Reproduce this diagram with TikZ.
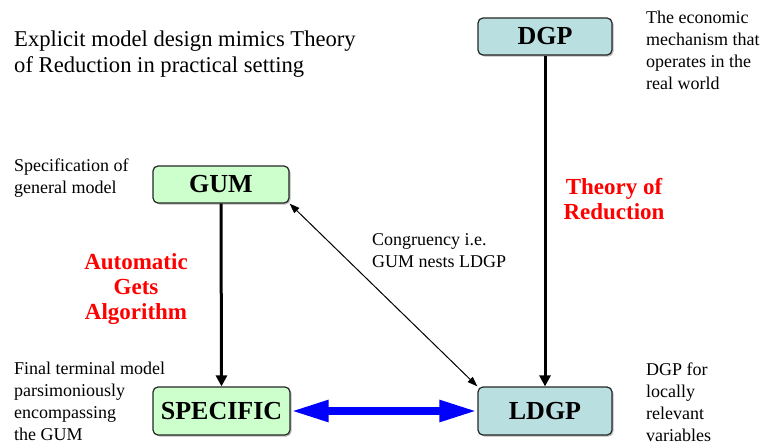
\documentclass[tikz,border=0pt]{standalone}
\usepackage{fontspec}
\setmainfont{Liberation Serif}
\usetikzlibrary{arrows.meta,shadows}
\definecolor{boxgreen}{HTML}{CCFFCC}
\definecolor{boxteal}{HTML}{B9DFE1}
\begin{document}
\begin{tikzpicture}[x=1pt,y=-1pt,
  box/.style={draw=black!85,line width=1.2pt,rounded corners=5pt,inner sep=0pt,
    font=\fontsize{26}{28}\selectfont\bfseries,
    drop shadow={shadow xshift=1.5pt,shadow yshift=-1.5pt,fill=black!45,opacity=0.6}},
  note/.style={anchor=north west,inner sep=0pt,align=left,font=\fontsize{18}{22}\selectfont},
  redlab/.style={anchor=north,inner sep=0pt,align=center,text=red,font=\fontsize{23}{25}\selectfont\bfseries},
  thickarr/.style={line width=3pt,-{Triangle[length=11pt,width=11pt]}},
  thinarr/.style={line width=1pt,{Triangle[length=10pt,width=7pt]}-{Triangle[length=10pt,width=7pt]}},
  bluearr/.style={draw=blue,line width=8pt,{Triangle[length=38pt,width=20pt]}-{Triangle[length=38pt,width=20pt]}}
]
\useasboundingbox (0,0) rectangle (767,442);
\node[box,fill=boxteal,minimum width=134pt,minimum height=37pt] (dgp) at (545,36.5) {DGP};
\node[box,fill=boxgreen,minimum width=136pt,minimum height=37pt] (gum) at (221,184.5) {GUM};
\node[box,fill=boxgreen,minimum width=137pt,minimum height=48pt] (spec) at (221.5,411) {SPECIFIC};
\node[box,fill=boxteal,minimum width=134pt,minimum height=48pt] (ldgp) at (545,411) {LDGP};

\draw[thickarr] (dgp.south) -- (ldgp.north);
\draw[thickarr] (gum.south) -- (spec.north);
\draw[thinarr] (gum.south east) -- (ldgp.north west);
\draw[bluearr] (spec.east) -- (ldgp.west);

\node[note,font=\fontsize{22.6}{26}\selectfont] (title) at (14,31) {Explicit model design mimics Theory\\of Reduction in practical setting};
\node[note] (econ) at (646,11) {The economic\\mechanism that\\operates in the\\real world};
\node[note] (spectxt) at (14,158.7) {Specification of\\general model};
\node[note] (cong) at (372,233.2) {Congruency i.e.\\GUM nests LDGP};
\node[note] (final) at (14,362.3) {Final terminal model\\parsimoniously\\encompassing\\the GUM};
\node[note] (local) at (646,362.3) {DGP for\\locally\\relevant\\variables};
\node[redlab] (theory) at (614,178.1) {Theory of\\Reduction};
\node[redlab] (gets) at (136,253.5) {Automatic\\Gets\\Algorithm};
\end{tikzpicture}
\end{document}
